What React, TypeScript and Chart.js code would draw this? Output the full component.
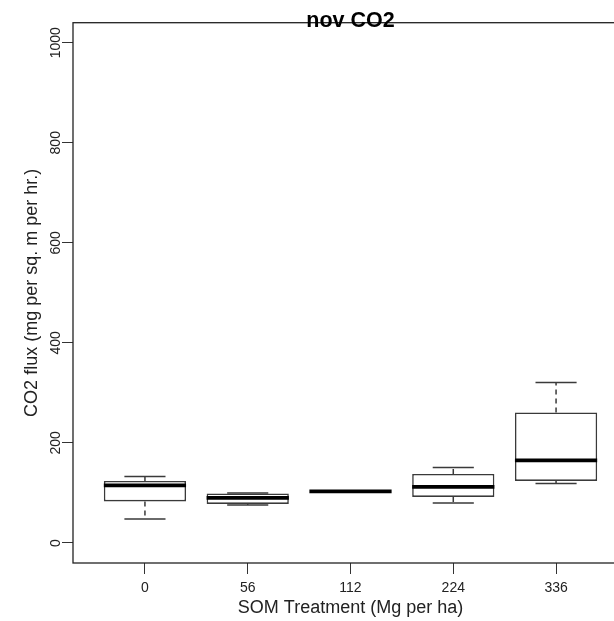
import React, { useEffect, useRef } from 'react';
import { Chart, registerables } from 'chart.js';

Chart.register(...registerables);

const categories = ['0', '56', '112', '224', '336'];
const whiskerLow = [48, 76, 103, 80, 119];
const lowerQuartile = [83, 78, 103, 92, 124];
const medians = [115, 90, 103, 112, 165];
const upperQuartile = [124, 99, 103, 138, 261];
const whiskerHigh = [133, 100, 103, 151, 321];
const yTicks = [0, 200, 400, 600, 800, 1000];

const chartTitle = 'nov CO2';
const xTitle = 'SOM Treatment (Mg per ha)';
const yTitle = 'CO2 flux (mg per sq. m per hr.)';

const FONT = '"Liberation Sans", Arial, Helvetica, sans-serif';
const INK = '#222';
const LINE = '#3a3a3a';

const boxExtras = {
  id: 'boxExtras',
  afterDatasetsDraw(chart: any) {
    const { ctx, scales } = chart;
    const x = scales.x;
    const y = scales.y;
    const meta = chart.getDatasetMeta(0);
    ctx.save();
    categories.forEach((_, i) => {
      const bar: any = meta.data[i];
      const half = bar.width / 2;
      const cx = x.getPixelForValue(i + 1);
      const capHalf = half / 2;
      const pLow = y.getPixelForValue(whiskerLow[i]);
      const pQ1 = y.getPixelForValue(lowerQuartile[i]);
      const pQ3 = y.getPixelForValue(upperQuartile[i]);
      const pHigh = y.getPixelForValue(whiskerHigh[i]);
      const pMed = y.getPixelForValue(medians[i]);
      ctx.strokeStyle = LINE;
      ctx.lineWidth = 1.5;
      ctx.setLineDash([5, 4]);
      ctx.beginPath();
      if (Math.abs(pHigh - pQ3) > 1) {
        ctx.moveTo(cx, pQ3);
        ctx.lineTo(cx, pHigh);
      }
      if (Math.abs(pLow - pQ1) > 1) {
        ctx.moveTo(cx, pQ1);
        ctx.lineTo(cx, pLow);
      }
      ctx.stroke();
      ctx.setLineDash([]);
      ctx.beginPath();
      ctx.moveTo(cx - capHalf, pHigh);
      ctx.lineTo(cx + capHalf, pHigh);
      ctx.moveTo(cx - capHalf, pLow);
      ctx.lineTo(cx + capHalf, pLow);
      ctx.stroke();
      ctx.strokeStyle = '#000';
      ctx.lineWidth = 3.8;
      ctx.beginPath();
      ctx.moveTo(cx - half, pMed);
      ctx.lineTo(cx + half, pMed);
      ctx.stroke();
    });
    ctx.restore();
  },
  afterDraw(chart: any) {
    const { ctx, chartArea } = chart;
    ctx.save();
    ctx.strokeStyle = INK;
    ctx.lineWidth = 1.3;
    ctx.strokeRect(chartArea.left, chartArea.top, chartArea.right - chartArea.left, chartArea.bottom - chartArea.top);
    ctx.fillStyle = '#000';
    ctx.font = `bold 21.5px ${FONT}`;
    ctx.textAlign = 'center';
    ctx.textBaseline = 'alphabetic';
    ctx.fillText(chartTitle, (chartArea.left + chartArea.right) / 2, 26.5);
    ctx.restore();
  },
};

export default function App() {
  const ref = useRef<HTMLCanvasElement>(null);
  useEffect(() => {
    if (!ref.current) return;
    const chart = new Chart(ref.current, {
      type: 'bar',
      data: {
        datasets: [
          {
            data: categories.map((_, i) => ({ x: i + 1, y: [lowerQuartile[i], upperQuartile[i]] })) as any,
            backgroundColor: '#fff',
            borderColor: LINE,
            borderWidth: 1.6,
            borderSkipped: false,
            barPercentage: 0.8,
            categoryPercentage: 1,
          },
        ],
      },
      options: {
        responsive: false,
        animation: false,
        layout: { padding: { top: 22.7, right: 22, left: 0, bottom: 0 } },
        plugins: { legend: { display: false }, tooltip: { enabled: false } },
        scales: {
          x: {
            type: 'linear',
            min: 0.3,
            max: 5.7,
            offset: false,
            afterBuildTicks: (s: any) => {
              s.ticks = categories.map((_, i) => ({ value: i + 1 }));
            },
            afterFit: (s: any) => {
              s.height = 58;
            },
            grid: { display: true, drawOnChartArea: false, drawTicks: true, tickLength: 11, color: '#333', offset: false },
            border: { display: false },
            ticks: {
              autoSkip: false,
              maxRotation: 0,
              padding: 6,
              color: INK,
              font: { family: FONT, size: 14 },
              callback: (v: any) => categories[Math.round(Number(v)) - 1],
            },
            title: {
              display: true,
              text: xTitle,
              color: INK,
              font: { family: FONT, size: 18 },
              padding: { top: 0, bottom: 2 },
            },
          },
          y: {
            type: 'linear',
            min: -40,
            max: 1040,
            afterBuildTicks: (s: any) => {
              s.ticks = yTicks.map((v) => ({ value: v }));
            },
            afterFit: (s: any) => {
              s.width = 73;
            },
            grid: { display: true, drawOnChartArea: false, drawTicks: true, tickLength: 11, color: '#333' },
            border: { display: false },
            ticks: {
              autoSkip: false,
              minRotation: 90,
              maxRotation: 90,
              crossAlign: 'center',
              padding: -10,
              color: INK,
              font: { family: FONT, size: 14 },
              callback: (v: any) => String(v),
            },
            title: {
              display: true,
              text: yTitle,
              color: INK,
              font: { family: FONT, size: 18 },
              padding: { top: 21, bottom: 0 },
            },
          },
        },
      } as any,
      plugins: [boxExtras],
    });
    return () => chart.destroy();
  }, []);
  return (
    <div style={{ position: 'absolute', left: 0, top: 0, width: 614, height: 621, overflow: 'hidden', background: '#fff' }}>
      <canvas ref={ref} width={650} height={621} style={{ display: 'block' }} />
    </div>
  );
}
